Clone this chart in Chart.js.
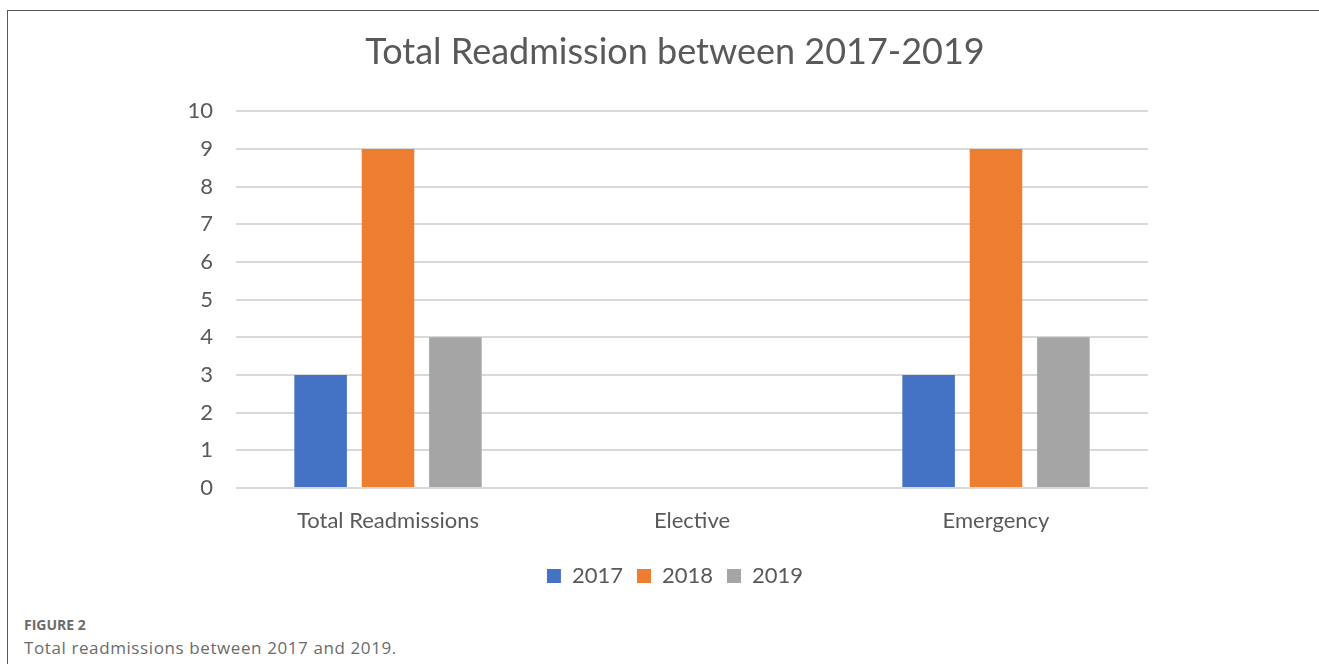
<!DOCTYPE html>
<html lang="en">
<head>
    <meta charset="UTF-8">
    <title>Total Readmission between 2017-2019</title>
    <style>
        body {
            margin: 0;
            background: #fff;
            width: 1319px;
            height: 664px;
            overflow: hidden;
            position: relative;
        }
        .frame {
            position: absolute;
            left: 7px;
            top: 10px;
            width: 1312px;
            height: 654px;
            border-left: 1px solid #5a5a5a;
            border-top: 1px solid #5a5a5a;
        }
        .chart-box {
            position: absolute;
            left: 0;
            top: 0;
            width: 1319px;
            height: 610px;
        }
        .caption-label {
            position: absolute;
            left: 24px;
            top: 615px;
            font-family: 'Open Sans', sans-serif;
            font-weight: bold;
            font-size: 14px;
            color: #6b6b6b;
        }
        .caption-text {
            position: absolute;
            left: 24px;
            top: 636px;
            font-family: 'Open Sans', sans-serif;
            font-size: 17px;
            letter-spacing: 0.6px;
            color: #6b6b6b;
        }
    </style>
</head>
<body>
    <div class="frame"></div>
    <div class="chart-box"><canvas id="barChart"></canvas></div>
    <div class="caption-label">FIGURE 2</div>
    <div class="caption-text">Total readmissions between 2017 and 2019.</div>

    <script src="https://cdn.jsdelivr.net/npm/chart.js"></script>
    <script>
        // dados
        var categorias = ['Total Readmissions', 'Elective', 'Emergency'];
        var anos = ['2017', '2018', '2019'];
        var valores2017 = [3, 0, 3];
        var valores2018 = [9, 0, 9];
        var valores2019 = [4, 0, 4];
        var cores = ['#4472C4', '#ED7D31', '#A5A5A5'];

        var corTexto = '#595959';
        var fonte = 'Lato, sans-serif';

        var barChart = new Chart(document.getElementById('barChart'), {
            type: 'bar',
            data: {
                labels: categorias,
                datasets: [
                    { label: anos[0], data: valores2017, backgroundColor: cores[0] },
                    { label: anos[1], data: valores2018, backgroundColor: cores[1] },
                    { label: anos[2], data: valores2019, backgroundColor: cores[2] }
                ]
            },
            options: {
                responsive: true,
                maintainAspectRatio: false,
                animation: false,
                categoryPercentage: 0.665,
                barPercentage: 0.78,
                layout: {
                    padding: { left: 180, right: 149, top: 10, bottom: 13 }
                },
                plugins: {
                    title: {
                        display: true,
                        text: 'Total Readmission between 2017-2019',
                        color: corTexto,
                        font: { family: fonte, size: 36, weight: 'normal' },
                        padding: { top: 21, bottom: 37 }
                    },
                    legend: {
                        position: 'bottom',
                        labels: {
                            color: corTexto,
                            font: { family: fonte, size: 22 },
                            boxWidth: 14,
                            boxHeight: 14,
                            padding: 14
                        }
                    },
                    tooltip: { enabled: false }
                },
                scales: {
                    x: {
                        grid: { display: false, drawTicks: false },
                        border: { display: false },
                        ticks: {
                            color: corTexto,
                            font: { family: fonte, size: 22 },
                            padding: 20
                        },
                        afterFit: function (scale) { scale.height = 63; }
                    },
                    y: {
                        min: 0,
                        max: 10,
                        ticks: {
                            stepSize: 1,
                            color: corTexto,
                            font: { family: fonte, size: 22 },
                            padding: 23
                        },
                        grid: { color: '#d9d9d9', lineWidth: 2, drawTicks: false },
                        border: { display: false },
                        afterFit: function (scale) { scale.width = 56; }
                    },
                    // eixo vazio a direita so para centralizar titulo e legenda
                    margemDireita: {
                        type: 'linear',
                        position: 'right',
                        grid: { display: false, drawTicks: false },
                        border: { display: false },
                        ticks: { display: false },
                        afterFit: function (scale) { scale.width = 22; }
                    }
                }
            }
        });
    </script>
</body>
</html>
